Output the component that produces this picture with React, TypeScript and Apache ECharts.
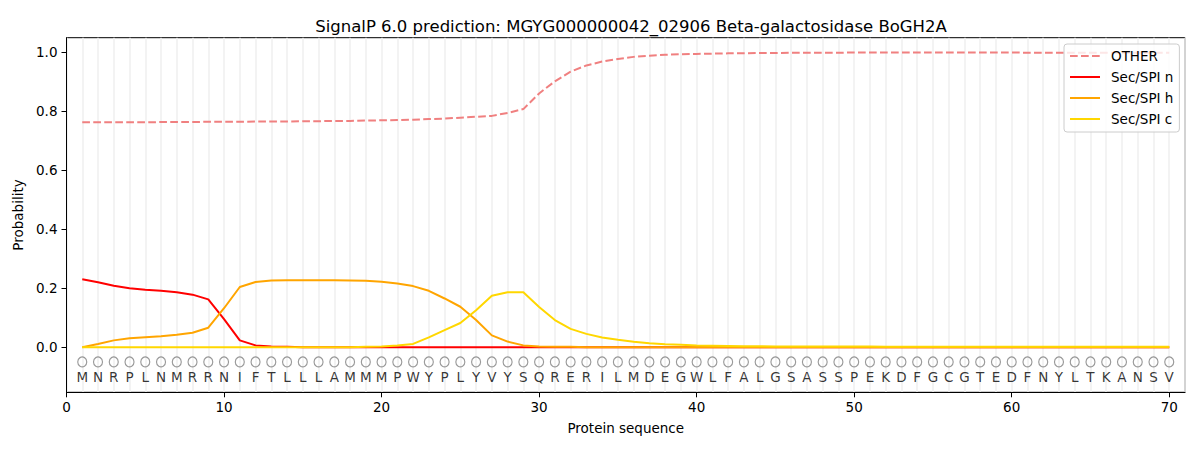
import { useEffect, useRef } from 'react';
import * as echarts from 'echarts';

const residues = 'MNRPLNMRRNIFTLLLAMMMPWYPLYVYSQRERILMDEGWLFALGSASSPEKDFGCGTEDFNYLTKANSV'.split('');

const otherProb = [
  0.762, 0.762, 0.762, 0.762, 0.762, 0.763, 0.763, 0.763, 0.764, 0.764,
  0.764, 0.765, 0.765, 0.765, 0.766, 0.766, 0.767, 0.767, 0.768, 0.769,
  0.770, 0.771, 0.773, 0.775, 0.778, 0.781, 0.784, 0.794, 0.807, 0.860,
  0.901, 0.934, 0.955, 0.968, 0.977, 0.984, 0.988, 0.991, 0.993, 0.994,
  0.995, 0.996, 0.996, 0.997, 0.997, 0.998, 0.998, 0.998, 0.998, 0.999,
  0.999, 0.999, 0.999, 0.999, 0.999, 0.999, 0.999, 0.999, 0.999, 0.999,
  0.998, 0.998, 0.998, 0.998, 0.998, 0.998, 0.998, 0.998, 0.998, 0.998,
];

const secN = [
  0.230, 0.220, 0.208, 0.200, 0.195, 0.191, 0.186, 0.178, 0.162, 0.095,
  0.023, 0.006, 0.002, 0.001, 0, 0, 0, 0, 0, 0,
  0, 0, 0, 0, 0, 0, 0, 0, 0, 0,
  0, 0, 0, 0, 0, 0, 0, 0, 0, 0,
  0, 0, 0, 0, 0, 0, 0, 0, 0, 0,
  0, 0, 0, 0, 0, 0, 0, 0, 0, 0,
  0, 0, 0, 0, 0, 0, 0, 0, 0, 0,
];

const secH = [
  0.000, 0.011, 0.023, 0.030, 0.034, 0.037, 0.042, 0.049, 0.066, 0.132,
  0.204, 0.221, 0.226, 0.227, 0.227, 0.227, 0.227, 0.226, 0.225, 0.222,
  0.216, 0.207, 0.191, 0.165, 0.137, 0.092, 0.040, 0.019, 0.006, 0.002,
  0.001, 0.001, 0, 0, 0, 0, 0, 0, 0, 0,
  0, 0, 0, 0, 0, 0, 0, 0, 0, 0,
  0, 0, 0, 0, 0, 0, 0, 0, 0, 0,
  0, 0, 0, 0, 0, 0, 0, 0, 0, 0,
];

const secC = [
  0, 0, 0, 0, 0, 0, 0, 0, 0, 0,
  0, 0, 0, 0, 0, 0, 0, 0, 0.001, 0.002,
  0.006, 0.011, 0.033, 0.058, 0.082, 0.125, 0.174, 0.186, 0.186, 0.136,
  0.092, 0.062, 0.045, 0.033, 0.025, 0.018, 0.013, 0.010, 0.008, 0.006,
  0.005, 0.004, 0.003, 0.003, 0.002, 0.002, 0.002, 0.002, 0.002, 0.002,
  0.002, 0.001, 0.001, 0.001, 0.001, 0.001, 0.001, 0.001, 0.001, 0.001,
  0.001, 0.001, 0.001, 0.001, 0.001, 0.001, 0.001, 0.001, 0.001, 0.001,
];

const xTicks = [0, 10, 20, 30, 40, 50, 60, 70];
const yTicks = [0, 0.2, 0.4, 0.6, 0.8, 1.0];

const FONT = 'DejaVu Sans';

const toPoints = (arr: number[]) => arr.map((v, i) => [i + 1, v]);

const App = () => {
  const chartDom = useRef<HTMLDivElement | null>(null);

  useEffect(() => {
    if (!chartDom.current) return;
    const myChart = echarts.init(chartDom.current, null, { renderer: 'svg' });

    const lineSeries = (name: string, data: number[], color: string, dashed = false) => ({
      name,
      type: 'line',
      data: toPoints(data),
      symbol: 'none',
      showSymbol: false,
      silent: true,
      z: 3,
      lineStyle: { color, width: 2, type: dashed ? [7.7, 3.3] : 'solid' },
      itemStyle: { color },
    });

    const option = {
      animation: false,
      textStyle: { fontFamily: FONT },
      title: {
        text: 'SignalP 6.0 prediction: MGYG000000042_02906 Beta-galactosidase BoGH2A',
        left: 626,
        top: 13,
        textAlign: 'center',
        textStyle: { fontFamily: FONT, fontSize: 16.5, fontWeight: 'normal', color: '#000' },
      },
      legend: {
        orient: 'vertical',
        left: 1064,
        top: 44,
        data: ['OTHER', 'Sec/SPI n', 'Sec/SPI h', 'Sec/SPI c'],
        itemWidth: 30,
        itemHeight: 14,
        itemGap: 7,
        padding: [5, 6, 6, 5],
        backgroundColor: 'rgba(255,255,255,0.8)',
        borderColor: '#cccccc',
        borderWidth: 1,
        borderRadius: 3,
        itemStyle: { opacity: 0 },
        textStyle: { fontFamily: FONT, fontSize: 13.5, color: '#000', padding: [0, 0, 0, 6] },
      },
      grid: {
        left: 66.5,
        right: 15,
        top: 37.7,
        bottom: 57.7,
        show: true,
        borderColor: '#000',
        borderWidth: 1,
        backgroundColor: 'transparent',
      },
      xAxis: [
        {
          type: 'value',
          min: 0,
          max: 71,
          name: 'Protein sequence',
          nameLocation: 'middle',
          nameGap: 29,
          nameTextStyle: { fontFamily: FONT, fontSize: 13.5, color: '#000' },
          axisLine: { show: true, onZero: false, lineStyle: { color: '#000', width: 1 } },
          axisTick: { show: true, length: 5, customValues: xTicks, lineStyle: { color: '#000' } },
          axisLabel: {
            customValues: xTicks,
            margin: 8,
            fontFamily: FONT,
            fontSize: 13.5,
            color: '#000',
          },
          splitLine: { show: false },
        },
        {
          type: 'value',
          min: 0,
          max: 71,
          interval: 1,
          position: 'top',
          axisLine: { show: false },
          axisTick: { show: false },
          axisLabel: { show: false },
          splitLine: { show: true, lineStyle: { color: '#efefef', width: 1.5 } },
        },
      ],
      yAxis: {
        type: 'value',
        min: -0.153,
        max: 1.049,
        name: 'Probability',
        nameLocation: 'middle',
        nameGap: 36,
        nameTextStyle: { fontFamily: FONT, fontSize: 13.5, color: '#000' },
        axisLine: { show: true, onZero: false, lineStyle: { color: '#000', width: 1 } },
        axisTick: { show: true, length: 5, customValues: yTicks, lineStyle: { color: '#000' } },
        axisLabel: {
          customValues: yTicks,
          margin: 9,
          fontFamily: FONT,
          fontSize: 13.5,
          color: '#000',
          formatter: (v: number) => v.toFixed(1),
        },
        splitLine: { show: false },
      },
      series: [
        lineSeries('OTHER', otherProb, '#f08080', true),
        lineSeries('Sec/SPI n', secN, '#ff0000'),
        lineSeries('Sec/SPI h', secH, '#ffa500'),
        lineSeries('Sec/SPI c', secC, '#ffd700'),
        {
          name: 'circles',
          type: 'scatter',
          silent: true,
          data: residues.map((_, i) => [i + 1, -0.05]),
          symbol: 'circle',
          symbolSize: [9, 10],
          itemStyle: { color: 'rgba(0,0,0,0)', borderColor: '#808080', borderWidth: 1.2 },
          z: 2,
        },
        {
          name: 'residues',
          type: 'scatter',
          silent: true,
          data: residues.map((r, i) => ({ value: [i + 1, -0.1], name: r })),
          symbol: 'circle',
          symbolSize: 1,
          itemStyle: { color: 'rgba(0,0,0,0)' },
          label: {
            show: true,
            position: 'inside',
            formatter: (p: any) => p.name,
            fontFamily: FONT,
            fontSize: 13.5,
            color: '#000',
          },
          z: 2,
        },
      ],
    };

    myChart.setOption(option);

    return () => {
      myChart.dispose();
    };
  }, []);

  return (
    <div style={{ position: 'fixed', left: 0, top: 0, width: 1200, height: 450, background: '#fff' }}>
      <div ref={chartDom} style={{ width: '100%', height: '100%' }} />
    </div>
  );
};

export default App;
